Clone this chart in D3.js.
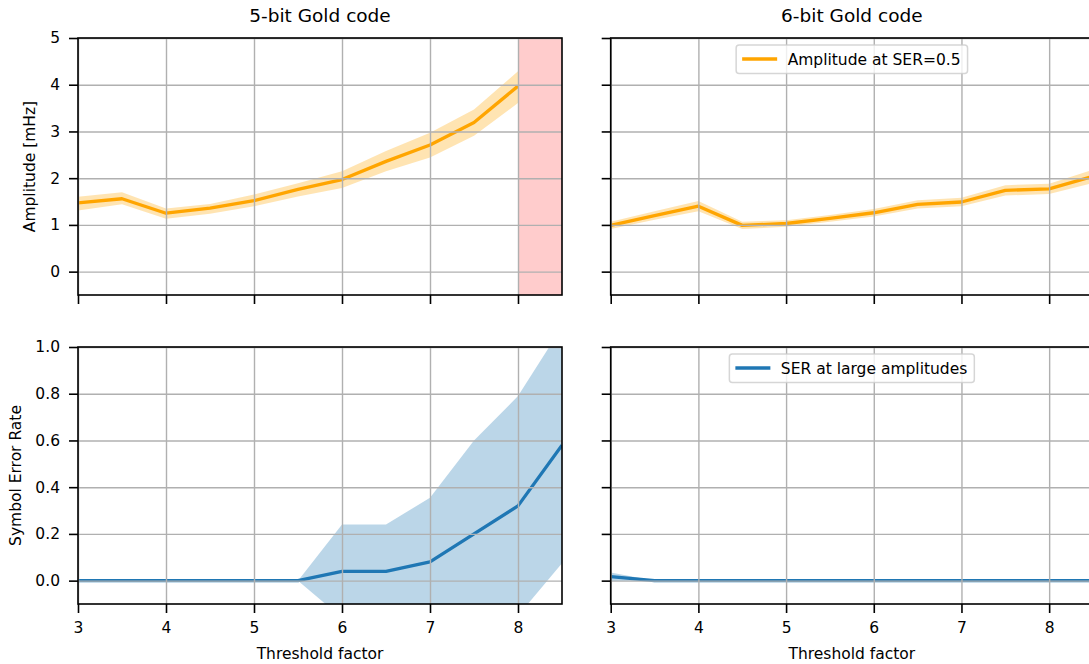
<!DOCTYPE html>
<html lang="en">
<head>
  <meta charset="UTF-8">
  <title>Gold code amplitude / SER vs threshold factor</title>
  <style>
    body { margin: 0; background: #fff; overflow: hidden; }
    svg { display: block; font-family: "DejaVu Sans", sans-serif; }
    .tick text { font-size: 15.5px; fill: #000; }
    .tick line { stroke: #000; stroke-width: 1.6px; }
    .grid line { stroke: #b0b0b0; stroke-width: 1.4px; }
    .grid .domain { display: none; }
  </style>
</head>
<body>
  <script src="https://d3js.org/d3.v7.min.js"></script>
  <script>
    // threshold factors (x)
    const thresholds5 = [3, 3.5, 4, 4.5, 5, 5.5, 6, 6.5, 7, 7.5, 8];
    const thresholds = [3, 3.5, 4, 4.5, 5, 5.5, 6, 6.5, 7, 7.5, 8, 8.5];

    // 5-bit: amplitude at SER=0.5 (mean and band)
    const amp5   = [1.47, 1.56, 1.25, 1.36, 1.52, 1.76, 1.97, 2.36, 2.71, 3.19, 3.97];
    const amp5Hi = [1.60, 1.70, 1.35, 1.45, 1.65, 1.89, 2.15, 2.58, 2.97, 3.47, 4.29];
    const amp5Lo = [1.31, 1.44, 1.13, 1.24, 1.40, 1.61, 1.79, 2.15, 2.44, 2.91, 3.61];

    // 6-bit: amplitude at SER=0.5
    const amp6   = [0.99, 1.20, 1.40, 0.99, 1.03, 1.14, 1.26, 1.44, 1.49, 1.74, 1.77, 2.04];
    const amp6Hi = [1.07, 1.29, 1.51, 1.07, 1.10, 1.21, 1.34, 1.53, 1.58, 1.85, 1.88, 2.18];
    const amp6Lo = [0.91, 1.11, 1.29, 0.91, 0.96, 1.07, 1.18, 1.35, 1.40, 1.63, 1.66, 1.90];

    // 5-bit: SER at large amplitudes
    const ser5   = [0, 0, 0, 0, 0, 0, 0.04, 0.04, 0.08, 0.20, 0.32, 0.58];
    const ser5Hi = [0, 0, 0, 0, 0, 0, 0.24, 0.24, 0.355, 0.60, 0.79, 1.086];
    const ser5Lo = [0, 0, 0, 0, 0, 0, -0.16, -0.16, -0.195, -0.20, -0.15, 0.074];

    // 6-bit: SER at large amplitudes
    const ser6   = [0.017, 0, 0, 0, 0, 0, 0, 0, 0, 0, 0, 0];
    const ser6Hi = [0.035, 0, 0, 0, 0, 0, 0, 0, 0, 0, 0, 0];
    const ser6Lo = [-0.002, 0, 0, 0, 0, 0, 0, 0, 0, 0, 0, 0];

    // shaded (invalid) region on 5-bit amplitude plot
    const invalidSpan = [8, 8.5];

    const xTicks = [3, 4, 5, 6, 7, 8];
    const ampTicks = [0, 1, 2, 3, 4, 5];
    const serTicks = [0, 0.2, 0.4, 0.6, 0.8, 1.0];
    const titles = ["5-bit Gold code", "6-bit Gold code"];

    const width = 1089, height = 664;
    const svg = d3.select("body").append("svg")
      .attr("width", width)
      .attr("height", height);

    // panel pixel boxes
    const cols = [[78, 562], [610.7, 1093]];
    const rows = [[38, 295], [347, 604]];

    const orange = "#ffa500", blue = "#1f77b4";

    function zip(xs, ys) { return xs.map((x, i) => [x, ys[i]]); }

    function panel(ci, ri, opts) {
      const [x0, x1] = cols[ci], [y0, y1] = rows[ri];
      const x = d3.scaleLinear().domain([3, 8.5]).range([x0, x1]);
      const y = d3.scaleLinear().domain(opts.yDomain).range([y1, y0]);
      const id = "clip" + ci + ri;
      svg.append("clipPath").attr("id", id)
        .append("rect").attr("x", x0).attr("y", y0).attr("width", x1 - x0).attr("height", y1 - y0);
      const g = svg.append("g");
      const plot = g.append("g").attr("clip-path", `url(#${id})`);

      // shaded span
      if (opts.span) {
        plot.append("rect")
          .attr("x", x(opts.span[0])).attr("y", y0)
          .attr("width", x(opts.span[1]) - x(opts.span[0])).attr("height", y1 - y0)
          .attr("fill", "#ff0000").attr("fill-opacity", 0.2);
      }

      // band
      const area = d3.area().x(d => x(d[0])).y0(d => y(d[1])).y1(d => y(d[2]));
      plot.append("path")
        .datum(opts.xs.map((v, i) => [v, opts.lo[i], opts.hi[i]]))
        .attr("d", area)
        .attr("fill", opts.color).attr("fill-opacity", 0.3);

      // grid
      g.append("g").attr("class", "grid")
        .attr("transform", `translate(0,${y1})`)
        .call(d3.axisBottom(x).tickValues(xTicks).tickSize(-(y1 - y0)).tickFormat(""));
      g.append("g").attr("class", "grid")
        .attr("transform", `translate(${x0},0)`)
        .call(d3.axisLeft(y).tickValues(opts.yTicks).tickSize(-(x1 - x0)).tickFormat(""));

      // line
      const line = d3.line().x(d => x(d[0])).y(d => y(d[1]));
      plot.append("path")
        .datum(zip(opts.xs, opts.ys))
        .attr("d", line)
        .attr("fill", "none").attr("stroke", opts.color).attr("stroke-width", 3.3)
        .attr("stroke-linejoin", "round");

      // axes (ticks)
      const xAxis = g.append("g")
        .attr("transform", `translate(0,${y1})`)
        .call(d3.axisBottom(x).tickValues(xTicks).tickSize(9).tickSizeOuter(0).tickPadding(9)
          .tickFormat(ri === 1 ? d3.format("d") : ""));
      xAxis.select(".domain").remove();
      const yAxis = g.append("g")
        .attr("transform", `translate(${x0},0)`)
        .call(d3.axisLeft(y).tickValues(opts.yTicks).tickSize(9).tickSizeOuter(0).tickPadding(9)
          .tickFormat(ci === 0 ? opts.fmt : ""));
      yAxis.select(".domain").remove();
      g.selectAll(".tick text").attr("font-family", "DejaVu Sans, sans-serif");

      // spines
      g.append("rect")
        .attr("x", x0).attr("y", y0).attr("width", x1 - x0).attr("height", y1 - y0)
        .attr("fill", "none").attr("stroke", "#000").attr("stroke-width", 1.6);

      // legend (upper center)
      if (opts.legend) {
        const cx = (x0 + x1) / 2;
        const lg = g.append("g");
        const box = lg.append("rect");
        const txt = lg.append("text")
          .attr("font-size", "15.5px").attr("fill", "#000")
          .text(opts.legend);
        const tw = txt.node().getComputedTextLength();
        const bw = 6 + 35 + 10.5 + tw + 7;
        const bx = cx - bw / 2, by = y0 + opts.legendDy;
        box.attr("x", bx).attr("y", by).attr("width", bw).attr("height", 28.5)
          .attr("rx", 3).attr("fill", "#fff").attr("fill-opacity", 0.8)
          .attr("stroke", "#cccccc").attr("stroke-opacity", 0.8).attr("stroke-width", 1.5);
        lg.append("line")
          .attr("x1", bx + 6).attr("x2", bx + 41)
          .attr("y1", by + 14).attr("y2", by + 14)
          .attr("stroke", opts.color).attr("stroke-width", 3.3);
        txt.attr("x", bx + 51.5).attr("y", by + 19.5);
      }

      if (ri === 0) {
        svg.append("text")
          .attr("x", (x0 + x1) / 2).attr("y", 21.7)
          .attr("text-anchor", "middle").attr("font-size", "18.5px")
          .text(titles[ci]);
      } else {
        svg.append("text")
          .attr("x", (x0 + x1) / 2).attr("y", 659.3)
          .attr("text-anchor", "middle").attr("font-size", "15.5px")
          .text("Threshold factor");
      }
    }

    // top row: amplitude
    panel(0, 0, { xs: thresholds5, ys: amp5, lo: amp5Lo, hi: amp5Hi, color: orange,
      yDomain: [-0.5, 5], yTicks: ampTicks, fmt: d3.format("d"), span: invalidSpan });
    panel(1, 0, { xs: thresholds, ys: amp6, lo: amp6Lo, hi: amp6Hi, color: orange,
      yDomain: [-0.5, 5], yTicks: ampTicks, fmt: d3.format("d"),
      legend: "Amplitude at SER=0.5", legendDy: 7 });

    // bottom row: symbol error rate
    panel(0, 1, { xs: thresholds, ys: ser5, lo: ser5Lo, hi: ser5Hi, color: blue,
      yDomain: [-0.1, 1.0], yTicks: serTicks, fmt: d3.format(".1f") });
    panel(1, 1, { xs: thresholds, ys: ser6, lo: ser6Lo, hi: ser6Hi, color: blue,
      yDomain: [-0.1, 1.0], yTicks: serTicks, fmt: d3.format(".1f"),
      legend: "SER at large amplitudes", legendDy: 7 });

    // y axis labels
    svg.append("text")
      .attr("transform", `translate(35,${(rows[0][0] + rows[0][1]) / 2}) rotate(-90)`)
      .attr("text-anchor", "middle").attr("font-size", "15.5px")
      .text("Amplitude [mHz]");
    svg.append("text")
      .attr("transform", `translate(21,${(rows[1][0] + rows[1][1]) / 2}) rotate(-90)`)
      .attr("text-anchor", "middle").attr("font-size", "15.5px")
      .text("Symbol Error Rate");
  </script>
</body>
</html>
